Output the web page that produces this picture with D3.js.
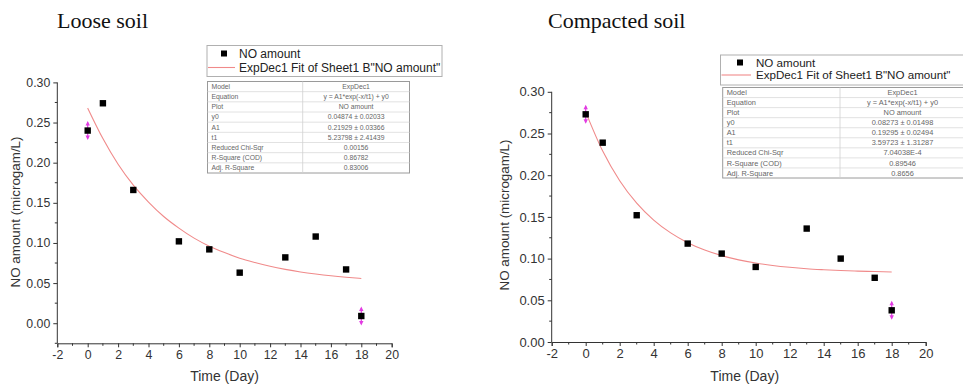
<!DOCTYPE html>
<html><head><meta charset="utf-8">
<script src="https://cdn.jsdelivr.net/npm/d3@7"></script>
<style>
html,body{margin:0;padding:0;background:#fff;}
svg{display:block;}
text{font-family:Arial,"Liberation Sans",sans-serif;}
</style></head>
<body>
<svg id="c" width="963" height="385"></svg>
<script>
// ---------- data ----------
const days = [0, 1, 3, 6, 8, 10, 13, 15, 17, 18];
const looseNO = [0.240, 0.274, 0.166, 0.102, 0.092, 0.063, 0.082, 0.108, 0.067, 0.009];
const compactNO = [0.273, 0.239, 0.152, 0.118, 0.106, 0.090, 0.136, 0.100, 0.077, 0.038];
const markedDays = [0, 18];
const fitDays = [0, 1, 2, 3, 4, 5, 6, 7, 8, 9, 10, 11, 12, 13, 14, 15, 16, 17, 18];
const looseFit = [0.268, 0.230, 0.198, 0.172, 0.151, 0.133, 0.1185, 0.106, 0.096, 0.088, 0.081, 0.0756, 0.0709, 0.0671, 0.0639, 0.0613, 0.0591, 0.0573, 0.0558];
const compactFit = [0.2757, 0.2289, 0.1934, 0.1665, 0.1462, 0.1308, 0.1191, 0.1103, 0.1036, 0.0985, 0.0947, 0.0918, 0.0896, 0.0879, 0.0867, 0.0857, 0.0850, 0.0845, 0.0840];
const xTicks = [-2, 0, 2, 4, 6, 8, 10, 12, 14, 16, 18, 20];
const yTicks = [0.00, 0.05, 0.10, 0.15, 0.20, 0.25, 0.30];
const titles = ["Loose soil", "Compacted soil"];
const legendLabels = ["NO amount", "ExpDec1 Fit of Sheet1 B\"NO amount\""];
const tableLabels = ["Model", "Equation", "Plot", "y0", "A1", "t1", "Reduced Chi-Sqr", "R-Square (COD)", "Adj. R-Square"];
const looseTable = ["ExpDec1", "y = A1*exp(-x/t1) + y0", "NO amount", "0.04874 ± 0.02033", "0.21929 ± 0.03366", "5.23798 ± 2.41439", "0.00156", "0.86782", "0.83006"];
const compactTable = ["ExpDec1", "y = A1*exp(-x/t1) + y0", "NO amount", "0.08273 ± 0.01498", "0.19295 ± 0.02494", "3.59723 ± 1.31287", "7.04038E-4", "0.89546", "0.8656"];

const svg = d3.select("#c");
const AX = "#333";

function panel(cfg) {
  const g = svg.append("g");
  const x = d3.scaleLinear().domain([-2, 20]).range(cfg.xr);
  const y = d3.scaleLinear().domain(cfg.yd).range(cfg.yr);

  // title
  g.append("text").attr("x", cfg.titleX).attr("y", 28)
    .style("font-family", "'Liberation Serif','Times New Roman',serif")
    .style("font-size", "22px").attr("fill", "#111").text(cfg.title);

  // x axis
  const xa = g.append("g").attr("transform", `translate(0,${cfg.yr[0]})`)
    .call(d3.axisBottom(x).tickValues(xTicks).tickSize(4).tickPadding(3).tickFormat(d => String(d)));
  xa.selectAll(".tick text").style("font-size", cfg.tickFs + "px").attr("fill", AX);
  xa.select(".domain").attr("stroke", AX);
  xa.selectAll(".tick line").attr("stroke", AX);
  xa.selectAll(".minor").data(d3.range(-1, 20, 2)).enter().append("line")
    .attr("x1", d => x(d)).attr("x2", d => x(d)).attr("y1", 0).attr("y2", 2.5).attr("stroke", AX);

  // y axis
  const ya = g.append("g").attr("transform", `translate(${cfg.xr[0]},0)`)
    .call(d3.axisLeft(y).tickValues(yTicks).tickSize(4).tickPadding(3).tickFormat(d => d.toFixed(2)));
  ya.selectAll(".tick text").style("font-size", cfg.tickFs + "px").attr("fill", AX);
  ya.select(".domain").attr("stroke", AX).attr("d", `M0,${cfg.yr[0]}V${y(0.30)}`);
  ya.selectAll(".tick line").attr("stroke", AX);
  const minorY = d3.range(cfg.yd[0] < 0 ? -0.025 : 0.025, 0.30, 0.05);
  ya.selectAll(".minor").data(minorY).enter().append("line")
    .attr("y1", d => y(d)).attr("y2", d => y(d)).attr("x1", 0).attr("x2", -2.5).attr("stroke", AX);

  // axis titles
  g.append("text").attr("x", (cfg.xr[0] + cfg.xr[1]) / 2 + cfg.xlabDx).attr("y", 381)
    .attr("text-anchor", "middle").style("font-size", "14px").attr("fill", AX).text("Time (Day)");
  g.append("text").attr("transform", `translate(${cfg.ylabX},${cfg.ylabY}) rotate(-90)`)
    .attr("text-anchor", "middle").style("font-size", "13.4px").attr("fill", AX).text("NO amount (microgam/L)");

  // fit curve
  const line = d3.line().x((d, i) => x(fitDays[i])).y(d => y(d)).curve(d3.curveMonotoneX);
  g.append("path").datum(cfg.fit).attr("d", line).attr("fill", "none")
    .attr("stroke", "#f08a8a").attr("stroke-width", 1.1);

  // magenta markers
  const mk = days.map((d, i) => ({ d, v: cfg.vals[i] })).filter(p => markedDays.includes(p.d));
  const mg = g.selectAll(".mk").data(mk).enter().append("g")
    .attr("transform", p => `translate(${x(p.d)},${y(p.v)})`);
  mg.append("line").attr("x1", 0).attr("x2", 0).attr("y1", -8).attr("y2", 8).attr("stroke", "#e23ce2").attr("stroke-width", 1.2);
  mg.append("path").attr("d", "M0,-9.5L-2.2,-5L2.2,-5Z").attr("fill", "#e23ce2");
  mg.append("path").attr("d", "M0,9.5L-2.2,5L2.2,5Z").attr("fill", "#e23ce2");

  // points
  g.selectAll(".pt").data(days).enter().append("rect")
    .attr("x", (d) => x(d) - 3.2).attr("y", (d, i) => y(cfg.vals[i]) - 3.2)
    .attr("width", 6.4).attr("height", 6.4).attr("fill", "#000");

  // legend box
  const L = cfg.leg;
  g.append("rect").attr("x", L.x).attr("y", L.y).attr("width", L.w).attr("height", L.h)
    .attr("fill", "#fff").attr("stroke", "#b0b0b0").attr("stroke-width", 1);
  g.append("rect").attr("x", L.sq - 3).attr("y", L.y1 - 3).attr("width", 6).attr("height", 6).attr("fill", "#000");
  g.append("line").attr("x1", L.x + 1).attr("x2", L.lineEnd).attr("y1", L.y2).attr("y2", L.y2)
    .attr("stroke", "#f08a8a").attr("stroke-width", 1.1);
  g.append("text").attr("x", L.tx).attr("y", L.y1).attr("dy", "0.35em").style("font-size", L.fs + "px").attr("fill", "#222").text(legendLabels[0]);
  g.append("text").attr("x", L.tx).attr("y", L.y2).attr("dy", "0.35em").style("font-size", L.fs + "px").attr("fill", "#222").text(legendLabels[1]);

  // table
  const T = cfg.tab;
  const rh = (T.y1 - T.y0) / tableLabels.length;
  g.append("rect").attr("x", T.x0).attr("y", T.y0).attr("width", T.x1 - T.x0).attr("height", T.y1 - T.y0)
    .attr("fill", "#fff").attr("stroke", "#9a9a9a").attr("stroke-width", 1);
  g.selectAll(".rl").data(d3.range(1, tableLabels.length)).enter().append("line")
    .attr("x1", T.x0).attr("x2", T.x1).attr("y1", i => T.y0 + i * rh).attr("y2", i => T.y0 + i * rh)
    .attr("stroke", "#dadada").attr("stroke-width", 0.8);
  g.append("line").attr("x1", T.xd).attr("x2", T.xd).attr("y1", T.y0).attr("y2", T.y1).attr("stroke", "#d0d0d0").attr("stroke-width", 0.8);
  g.selectAll(".tl").data(tableLabels).enter().append("text")
    .attr("x", T.x0 + 4).attr("y", (d, i) => T.y0 + (i + 0.5) * rh).attr("dy", "0.35em")
    .style("font-size", T.fs + "px").attr("fill", "#666").text(d => d);
  g.selectAll(".tv").data(cfg.table).enter().append("text")
    .attr("x", (T.xd + T.x1) / 2).attr("y", (d, i) => T.y0 + (i + 0.5) * rh).attr("dy", "0.35em")
    .attr("text-anchor", "middle").style("font-size", T.fs + "px").attr("fill", "#666").text(d => d);
}

panel({
  title: titles[0], titleX: 57, xr: [57.3, 391.7], yd: [-0.025, 0.30], yr: [343.3, 82.4],
  vals: looseNO, fit: looseFit, table: looseTable, tickFs: 12.3, xlabDx: 0, ylabX: 20, ylabY: 212,
  leg: { x: 207, y: 45.5, w: 235, h: 31, sq: 224, tx: 239, lineEnd: 235, y1: 53.5, y2: 67.5, fs: 12 },
  tab: { x0: 207.5, x1: 409.5, y0: 81.5, y1: 173, xd: 302.7, fs: 6.8 }
});
panel({
  title: titles[1], titleX: 548, xr: [551.7, 925.7], yd: [0, 0.30], yr: [342, 91.8],
  vals: compactNO, fit: compactFit, table: compactTable, tickFs: 13, xlabDx: 6, ylabX: 509, ylabY: 215,
  leg: { x: 720.5, y: 55, w: 260, h: 30, sq: 740, tx: 756, lineEnd: 751, y1: 62.5, y2: 75, fs: 11.6 },
  tab: { x0: 722.7, x1: 965, y0: 87.5, y1: 178, xd: 840, fs: 7.4 }
});
</script>
</body></html>
